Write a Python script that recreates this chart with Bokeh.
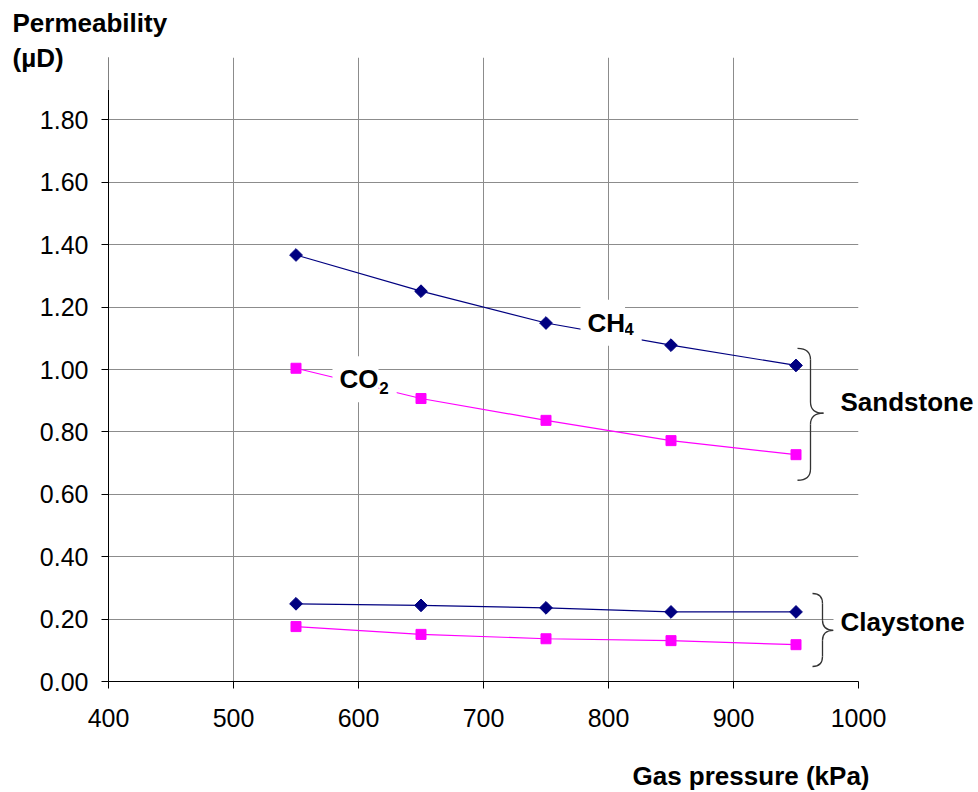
from bokeh.plotting import figure
from bokeh.models import Range1d, FixedTicker, NumeralTickFormatter, Label, BoxAnnotation, ColumnDataSource
from bokeh.core.properties import value
from bokeh.embed import file_html
from bokeh.resources import INLINE
import numpy as np

# ---- data ----
pressure = [550, 650, 750, 850, 950]
ch4_sand = [1.367, 1.251, 1.149, 1.078, 1.013]
co2_sand = [1.004, 0.907, 0.837, 0.772, 0.727]
ch4_clay = [0.249, 0.244, 0.236, 0.223, 0.223]
co2_clay = [0.176, 0.151, 0.137, 0.131, 0.118]

x_ticks = [400, 500, 600, 700, 800, 900, 1000]
y_ticks = [0.0, 0.2, 0.4, 0.6, 0.8, 1.0, 1.2, 1.4, 1.6, 1.8]
x_grid = [500, 600, 700, 800, 900, 1000]
y_grid = [0.2, 0.4, 0.6, 0.8, 1.0, 1.2, 1.4, 1.6, 1.8, 2.0]

FONT = "Liberation Sans"
NAVY = "#000080"
MAGENTA = "#FF00FF"

p = figure(width=978, height=792, x_range=Range1d(400, 1000), y_range=Range1d(0, 2.0),
           output_backend="svg", toolbar_location=None, title=None,
           min_border_left=108, min_border_right=120, min_border_top=57, min_border_bottom=111)
p.outline_line_color = None
p.background_fill_color = "white"
p.border_fill_color = "white"

p.xaxis.ticker = FixedTicker(ticks=x_ticks)
p.yaxis.ticker = FixedTicker(ticks=y_ticks)
p.yaxis.formatter = NumeralTickFormatter(format="0.00")
for ax in (p.xaxis, p.yaxis):
    ax.axis_line_color = "black"
    ax.major_tick_line_color = "black"
    ax.major_tick_in = 0
    ax.major_tick_out = 7
    ax.minor_tick_line_color = None
    ax.major_label_text_font = FONT
    ax.major_label_text_font_size = "25px"
    ax.major_label_text_color = "black"
p.yaxis.major_label_standoff = 13
p.xaxis.major_label_standoff = 20

p.xgrid.ticker = FixedTicker(ticks=x_grid)
p.ygrid.ticker = FixedTicker(ticks=y_grid)
p.grid.grid_line_color = "#8c8c8c"
p.grid.grid_line_width = 1

# ---- series ----
src = ColumnDataSource(dict(x=pressure, ch4s=ch4_sand, co2s=co2_sand, ch4c=ch4_clay, co2c=co2_clay))
for col in ("ch4s", "ch4c"):
    p.line("x", col, source=src, line_color=NAVY, line_width=1.2)
    p.scatter("x", col, source=src, marker="square", angle=np.pi / 4, size=9,
              fill_color=NAVY, line_color=NAVY)
for col in ("co2s", "co2c"):
    p.line("x", col, source=src, line_color=MAGENTA, line_width=1.2)
    p.scatter("x", col, source=src, marker="square", size=10,
              fill_color=MAGENTA, line_color=MAGENTA)

# ---- braces ----
def brace(x0, x1, x2, yt, ym, yb, d):
    q = dict(x0=[x0, x1, x2, x1], y0=[yt, ym + d, ym, yb + d],
             x1=[x1, x2, x1, x0], y1=[yt - d, ym, ym - d, yb],
             cx=[x1, x1, x1, x1], cy=[yt, ym, ym, yb])
    p.quadratic(x0="x0", y0="y0", x1="x1", y1="y1", cx="cx", cy="cy",
                source=ColumnDataSource(q), line_color="#333333", line_width=1.3)
    p.segment(x0=[x1, x1], y0=[yt - d, ym - d], x1=[x1, x1], y1=[ym + d, yb + d],
              line_color="#333333", line_width=1.3)

brace(951.2, 961.6, 972.0, 1.068, 0.860, 0.645, 0.036)
brace(963.2, 971.2, 980.0, 0.282, 0.164, 0.048, 0.032)

# ---- white boxes behind texts (inside the plot area) ----
for (l, r, b, t) in [(390, 489.6, 1.896, 2.05),     # under the axis title
                     (980.0, 1010, 0.814, 0.958),   # Sandstone
                     (980.0, 1010, 0.115, 0.260)]:  # Claystone
    p.add_layout(BoxAnnotation(left=l, right=r, bottom=b, top=t,
                               fill_color="white", fill_alpha=1.0, line_color=None))

# ---- texts outside the plot area (text glyphs drawn at overlay level) ----
out_txt = ColumnDataSource(dict(
    x=[323.2, 323.2, 819.2, 985.6, 985.6],
    y=[2.109, 1.997, -0.302, 0.897, 0.192],
    t=["Permeability", "(µD)", "Gas pressure (kPa)", "Sandstone", "Claystone"]))
p.text(x="x", y="y", text="t", source=out_txt, text_font=value(FONT),
       text_font_size="26px", text_font_style="bold", text_color="black",
       text_align="left", text_baseline="middle", level="overlay")

def lab(text, x, y, size="26px", pad=0):
    l = Label(x=x, y=y, text=text, text_font=FONT, text_font_size=size,
              text_font_style="bold", text_color="black",
              text_align="left", text_baseline="middle",
              background_fill_color="white", background_fill_alpha=1.0, padding=pad)
    p.add_layout(l)
    return l

# subscripts first, main text boxes on top
lab("4", 812.6, 1.129, size="17px", pad=dict(left=0, right=8, top=9, bottom=9))
lab("2", 616.6, 0.942, size="17px", pad=dict(left=0, right=8, top=9, bottom=9))
lab("CH", 777.6, 1.150, pad=dict(left=7, right=0, top=8, bottom=8))
lab("CO", 579.2, 0.969, pad=dict(left=7, right=0, top=8, bottom=8))

open("out.html", "w").write(file_html(p, INLINE))
